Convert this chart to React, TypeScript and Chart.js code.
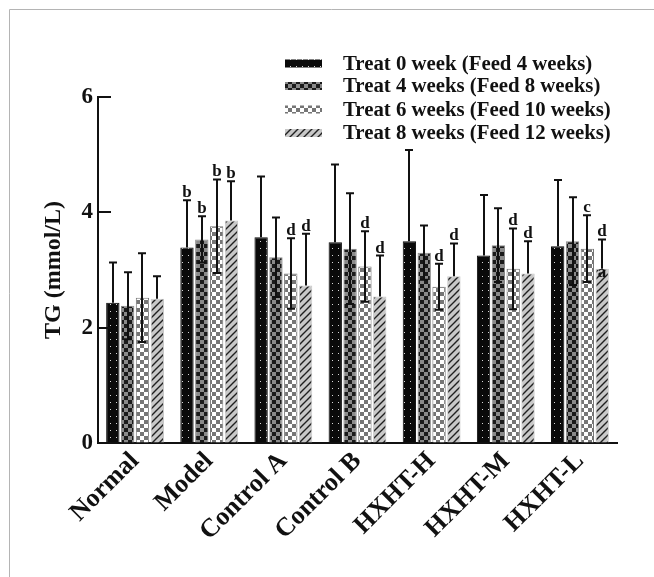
import React, { useEffect, useRef } from 'react';
import { Chart, registerables } from 'chart.js';

Chart.register(...registerables);

// ---- data ----
const categories = ['Normal', 'Model', 'Control A', 'Control B', 'HXHT-H', 'HXHT-M', 'HXHT-L'];
const seriesLabels = [
  'Treat 0 week (Feed 4 weeks)',
  'Treat 4 weeks (Feed 8 weeks)',
  'Treat 6 weeks (Feed 10 weeks)',
  'Treat 8 weeks (Feed 12 weeks)',
];
const treat0 = [2.43, 3.39, 3.57, 3.48, 3.50, 3.25, 3.41];
const treat4 = [2.38, 3.53, 3.22, 3.37, 3.30, 3.43, 3.50];
const treat6 = [2.52, 3.76, 2.94, 3.06, 2.71, 3.02, 3.37];
const treat8 = [2.50, 3.86, 2.73, 2.54, 2.89, 2.94, 3.02];
const sd0 = [0.70, 0.82, 1.05, 1.35, 1.58, 1.05, 1.15];
const sd4 = [0.58, 0.40, 0.69, 0.96, 0.47, 0.64, 0.76];
const sd6 = [0.77, 0.81, 0.61, 0.61, 0.40, 0.70, 0.58];
const sd8 = [0.39, 0.68, 0.90, 0.71, 0.57, 0.56, 0.51];
const letters0 = ['', 'b', '', '', '', '', ''];
const letters4 = ['', 'b', '', '', '', '', ''];
const letters6 = ['', 'b', 'd', 'd', 'd', 'd', 'c'];
const letters8 = ['', 'b', 'd', 'd', 'd', 'd', 'd'];
const innerLetters8 = ['', '', '', '', '', '', 'a'];
const yTicks = [0, 2, 4, 6];
const yTitle = 'TG (mmol/L)';

const seriesValues = [treat0, treat4, treat6, treat8];
const seriesSd = [sd0, sd4, sd6, sd8];
const seriesLetters = [letters0, letters4, letters6, letters8];
const seriesInner = [[], [], [], innerLetters8];
const showLower = [false, true, true, false];

const FONT = "'Liberation Serif', 'Times New Roman', serif";

function makeTile(w: number, h: number, draw: (c: CanvasRenderingContext2D) => void) {
  const t = document.createElement('canvas');
  t.width = w;
  t.height = h;
  const c = t.getContext('2d')!;
  draw(c);
  return t;
}

function makePatterns(ctx: CanvasRenderingContext2D) {
  const p1 = makeTile(6, 7, (c) => {
    c.fillStyle = '#0a0a0a';
    c.fillRect(0, 0, 6, 7);
    c.fillStyle = '#d8d8d8';
    c.fillRect(2, 3, 1, 1);
  });
  const p2 = makeTile(8, 8, (c) => {
    c.fillStyle = '#8a8a8a';
    c.fillRect(0, 0, 8, 8);
    c.fillStyle = '#1a1a1a';
    c.fillRect(0, 0, 4, 4);
    c.fillRect(4, 4, 4, 4);
  });
  const p3 = makeTile(8, 8, (c) => {
    c.fillStyle = '#767676';
    c.fillRect(0, 0, 8, 8);
    c.fillStyle = '#ffffff';
    c.fillRect(0, 0, 4, 4);
    c.fillRect(4, 4, 4, 4);
  });
  const p4 = makeTile(7, 7, (c) => {
    c.fillStyle = '#c8c8c8';
    c.fillRect(0, 0, 7, 7);
    c.strokeStyle = '#202020';
    c.lineWidth = 1.4;
    c.beginPath();
    c.moveTo(-1, 8);
    c.lineTo(8, -1);
    c.moveTo(-4.5, 4.5);
    c.lineTo(4.5, -4.5);
    c.moveTo(2.5, 11.5);
    c.lineTo(11.5, 2.5);
    c.stroke();
  });
  return [p1, p2, p3, p4].map((t) => ctx.createPattern(t, 'repeat')!);
}

const borderColors = ['#0a0a0a', '#8a8a8a', '#767676', '#c8c8c8'];

export default function App() {
  const ref = useRef<HTMLCanvasElement | null>(null);

  useEffect(() => {
    const canvas = ref.current!;
    const ctx0 = canvas.getContext('2d')!;
    const patterns = makePatterns(ctx0);

    const framePlugin = {
      id: 'frame',
      beforeDraw(chart: any) {
        const c = chart.ctx;
        c.save();
        c.fillStyle = '#ffffff';
        c.fillRect(0, 0, chart.width, chart.height);
        c.strokeStyle = '#b4b4b4';
        c.lineWidth = 1;
        c.beginPath();
        c.moveTo(9.5, chart.height);
        c.lineTo(9.5, 9.5);
        c.lineTo(chart.width, 9.5);
        c.stroke();
        c.restore();
      },
    };

    const overlayPlugin = {
      id: 'overlay',
      afterDatasetsDraw(chart: any) {
        const c = chart.ctx;
        const ys = chart.scales.y;
        const left = chart.chartArea.left;
        c.save();
        // inward y ticks
        c.strokeStyle = '#111';
        c.lineWidth = 2;
        yTicks.forEach((v) => {
          const py = Math.round(ys.getPixelForValue(v));
          c.beginPath();
          c.moveTo(left, py);
          c.lineTo(left + 13, py);
          c.stroke();
        });
        // error bars + letters
        chart.data.datasets.forEach((ds: any, di: number) => {
          const meta = chart.getDatasetMeta(di);
          meta.data.forEach((bar: any, i: number) => {
            const mean = seriesValues[di][i];
            const sd = seriesSd[di][i];
            const x = Math.round(bar.x);
            const yt = ys.getPixelForValue(mean + sd);
            const yb = showLower[di] ? ys.getPixelForValue(mean - sd) : bar.y;
            c.strokeStyle = '#111';
            c.lineWidth = 2;
            c.beginPath();
            c.moveTo(x, yb);
            c.lineTo(x, yt);
            c.moveTo(x - 4, yt);
            c.lineTo(x + 4, yt);
            if (showLower[di]) {
              c.moveTo(x - 4, yb);
              c.lineTo(x + 4, yb);
            }
            c.stroke();
            const L = seriesLetters[di][i];
            if (L) {
              c.fillStyle = '#111';
              c.font = `bold 17px ${FONT}`;
              c.textAlign = 'center';
              c.textBaseline = 'alphabetic';
              c.fillText(L, x, yt - 3);
            }
            const inner = (seriesInner[di] as string[])[i];
            if (inner) {
              c.fillStyle = '#111';
              c.font = `bold 17px ${FONT}`;
              c.textAlign = 'center';
              c.textBaseline = 'alphabetic';
              c.fillText(inner, x, bar.y + 8);
            }
          });
        });
        c.restore();
      },
      afterDraw(chart: any) {
        const c = chart.ctx;
        c.save();
        const rows = [63.5, 86, 109.5, 133];
        seriesLabels.forEach((lab, i) => {
          const cy = rows[i];
          c.fillStyle = patterns[i];
          c.fillRect(285, cy - 4, 37, 8);
          c.fillStyle = '#111';
          c.font = `bold 20.8px ${FONT}`;
          c.textAlign = 'left';
          c.textBaseline = 'middle';
          c.fillText(lab, 343, cy + 1);
        });
        c.restore();
      },
    };

    const chart = new Chart(canvas, {
      type: 'bar',
      data: {
        labels: categories,
        datasets: seriesValues.map((vals, i) => ({
          label: seriesLabels[i],
          data: vals,
          backgroundColor: patterns[i],
          borderColor: borderColors[i],
          borderWidth: 1,
          categoryPercentage: 0.8,
          barPercentage: 0.9,
        })),
      },
      options: {
        responsive: false,
        animation: false,
        layout: { padding: { top: 97, right: 37, left: 0, bottom: 0 } },
        plugins: {
          legend: { display: false },
          tooltip: { enabled: false },
        },
        scales: {
          x: {
            grid: { display: true, drawOnChartArea: false, drawTicks: false },
            border: { display: true, color: '#111', width: 2 },
            ticks: {
              color: '#111',
              font: { family: FONT, size: 26, weight: 'bold' },
              minRotation: 45,
              maxRotation: 45,
              padding: 3,
              autoSkip: false,
            },
            afterFit: (s: any) => {
              s.height = 134;
            },
          },
          y: {
            min: 0,
            max: 6,
            grid: { display: true, drawOnChartArea: false, drawTicks: false },
            border: { display: true, color: '#111', width: 2 },
            ticks: {
              stepSize: 2,
              color: '#111',
              padding: 5,
              font: { family: FONT, size: 23, weight: 'bold' },
            },
            title: {
              display: true,
              text: yTitle,
              color: '#111',
              font: { family: FONT, size: 24, weight: 'bold' },
              padding: { top: 39, bottom: 0 },
            },
            afterFit: (s: any) => {
              s.width = 98;
            },
          },
        },
      },
      plugins: [framePlugin, overlayPlugin],
    } as any);

    return () => chart.destroy();
  }, []);

  return (
    <div style={{ position: 'fixed', left: 0, top: 0, width: 654, height: 577, background: '#fff' }}>
      <canvas ref={ref} width={654} height={577} style={{ display: 'block' }} />
    </div>
  );
}
